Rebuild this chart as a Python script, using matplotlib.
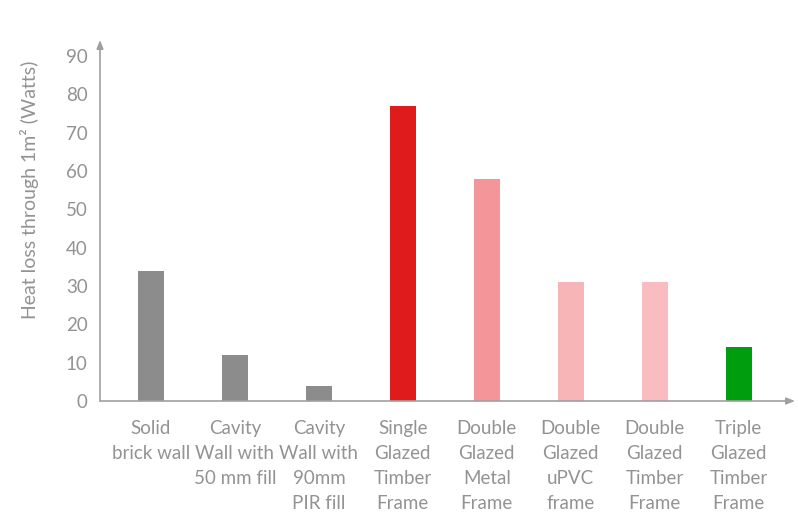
import matplotlib
matplotlib.use("Agg")
import matplotlib.pyplot as plt

categories = ["Solid\nbrick wall", "Cavity\nWall with\n50 mm fill", "Cavity\nWall with\n90mm\nPIR fill",
              "Single\nGlazed\nTimber\nFrame", "Double\nGlazed\nMetal\nFrame", "Double\nGlazed\nuPVC\nframe",
              "Double\nGlazed\nTimber\nFrame", "Triple\nGlazed\nTimber\nFrame"]
values = [34, 12, 4, 77, 58, 31, 31, 14]
colors = ["#8c8c8c", "#8c8c8c", "#8c8c8c", "#e01b1b", "#f4959a", "#f7b5b8", "#f9bcc1", "#009e0f"]
yticks = [0, 10, 20, 30, 40, 50, 60, 70, 80, 90]
ylabel = "Heat loss through 1m² (Watts)"

plt.rcParams['font.family'] = ['Lato', 'DejaVu Sans']
txt = "#939393"
axc = "#a0a0a0"
fw = 'normal'

fig = plt.figure(figsize=(7.98, 5.14), dpi=100)
ax = fig.add_axes([100/798, (514-401)/514, 695/798, (401-40)/514])
x = list(range(len(categories)))
ax.bar(x, values, width=0.31, color=colors, zorder=2)
ax.set_xlim(-0.607, 7.67)
ax.set_ylim(0, 94.2)
ax.set_yticks(yticks)
ax.set_yticklabels([str(t) for t in yticks], fontsize=13.5, color=txt, fontweight=fw)
ax.set_xticks(x)
ax.set_xticklabels(categories, fontsize=13.5, color=txt, linespacing=1.55, fontweight=fw, va='top')
ax.tick_params(axis='both', length=0)
ax.tick_params(axis='y', pad=9)
ax.tick_params(axis='x', pad=14)
for s in ax.spines.values():
    s.set_visible(False)
ax.annotate("", xy=(0, 1.0), xytext=(0, 0), xycoords='axes fraction',
            arrowprops=dict(arrowstyle="-|>,head_length=0.5,head_width=0.2", color=axc, lw=1.2, shrinkA=0, shrinkB=0))
ax.annotate("", xy=(1.0, 0), xytext=(0, 0), xycoords='axes fraction',
            arrowprops=dict(arrowstyle="-|>,head_length=0.5,head_width=0.2", color=axc, lw=1.2, shrinkA=0, shrinkB=0))
fig.text(30/798, 1-190/514, ylabel, rotation=90, ha='center', va='center', fontsize=14, color=txt, fontweight=fw)
fig.savefig("out.png", dpi=100)
